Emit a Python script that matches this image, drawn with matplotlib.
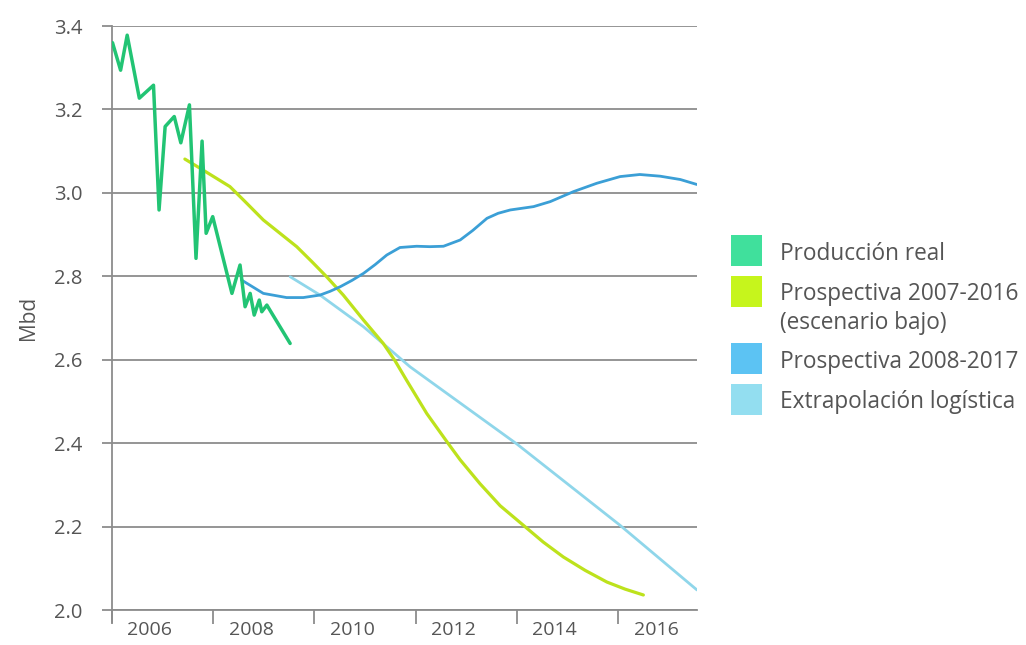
import matplotlib.pyplot as plt
from matplotlib.patches import Rectangle

plt.rcParams['font.family'] = ['Open Sans', 'DejaVu Sans']

# ----------------------------------------------------------------------
# data
# ----------------------------------------------------------------------
real_x = [2005.01, 2005.17, 2005.30, 2005.54, 2005.82, 2005.93, 2006.05, 2006.23,
          2006.36, 2006.53, 2006.66, 2006.78, 2006.86, 2006.99, 2007.37, 2007.53,
          2007.63, 2007.73, 2007.81, 2007.91, 2007.96, 2008.06, 2008.52]
real_y = [3.360, 3.294, 3.378, 3.227, 3.258, 2.959, 3.159, 3.183,
          3.120, 3.211, 2.843, 3.124, 2.903, 2.943, 2.759, 2.827,
          2.727, 2.759, 2.707, 2.743, 2.715, 2.731, 2.639]

p07_x = [2006.44, 2006.74, 2007.33, 2007.63, 2007.99, 2008.32, 2008.65, 2008.95,
         2009.24, 2009.57, 2009.97, 2010.36, 2010.59, 2010.82, 2011.22, 2011.65,
         2011.88, 2012.27, 2012.67, 2013.13, 2013.52, 2013.92, 2014.35, 2014.78,
         2015.14, 2015.50]
p07_y = [3.081, 3.059, 3.015, 2.979, 2.935, 2.903, 2.871, 2.835,
         2.799, 2.755, 2.695, 2.639, 2.598, 2.551, 2.471, 2.398,
         2.360, 2.303, 2.250, 2.203, 2.163, 2.127, 2.095, 2.067,
         2.050, 2.036]

p08_x = [2007.56, 2007.99, 2008.45, 2008.78, 2009.11, 2009.31, 2009.51, 2009.74,
         2009.97, 2010.20, 2010.43, 2010.69, 2011.02, 2011.28, 2011.55, 2011.88,
         2012.13, 2012.41, 2012.63, 2012.87, 2013.10, 2013.33, 2013.66, 2014.12,
         2014.58, 2015.04, 2015.43, 2015.83, 2016.23, 2016.56]
p08_y = [2.791, 2.759, 2.749, 2.749, 2.755, 2.764, 2.775, 2.790,
         2.807, 2.828, 2.851, 2.869, 2.872, 2.871, 2.872, 2.887,
         2.910, 2.939, 2.951, 2.959, 2.963, 2.967, 2.979, 3.003,
         3.023, 3.039, 3.044, 3.040, 3.032, 3.020]

logis_x = [2008.52, 2009.11, 2009.97, 2010.89, 2013.00, 2015.04, 2016.56]
logis_y = [2.799, 2.755, 2.679, 2.583, 2.398, 2.203, 2.048]

yticks = [2.0, 2.2, 2.4, 2.6, 2.8, 3.0, 3.2, 3.4]
year_ticks = [2005, 2007, 2009, 2011, 2013, 2015]
year_labels = ['2006', '2008', '2010', '2012', '2014', '2016']

legend_labels = ['Producción real', 'Prospectiva 2007-2016\n(escenario bajo)',
                 'Prospectiva 2008-2017', 'Extrapolación logística']

# ----------------------------------------------------------------------
# plot
# ----------------------------------------------------------------------
grey = '#8c8c8c'
txt = '#555555'
W, H = 1026, 645

fig = plt.figure(figsize=(W/100, H/100), dpi=100)
ax = fig.add_axes([112/W, 1 - 610/H, (697-112)/W, (610-26)/H])

line_kw = dict(solid_joinstyle='round', solid_capstyle='round')
ax.plot(logis_x, logis_y, color='#8fd6ea', lw=2.0, zorder=3, **line_kw)
ax.plot(p07_x, p07_y, color='#bde21c', lw=2.3, zorder=4, **line_kw)
ax.plot(p08_x, p08_y, color='#3b9fd6', lw=2.0, zorder=5, **line_kw)
ax.plot(real_x, real_y, color='#22c474', lw=2.5, zorder=6, **line_kw)

ax.set_xlim(2005, 2016.56)
ax.set_ylim(2.0, 3.4)

ax.set_yticks(yticks)
ax.set_yticklabels(['%.1f' % v for v in yticks])
ax.yaxis.grid(True, color=grey, lw=1.3)
ax.set_axisbelow(True)

ax.set_xticks(year_ticks)
ax.set_xticklabels([])
ax.set_xticks([y + 0.75 for y in year_ticks], minor=True)
ax.set_xticklabels(year_labels, minor=True)
ax.tick_params(axis='x', which='major', length=10, width=1.3, color=grey)
ax.tick_params(axis='x', which='minor', length=0, pad=8, labelsize=14, labelcolor=txt)
ax.tick_params(axis='y', length=7, width=1.3, color=grey, pad=14,
               labelsize=14.5, labelcolor=txt)

for s in ['top', 'right']:
    ax.spines[s].set_visible(False)
for s in ['left', 'bottom']:
    ax.spines[s].set_color(grey)
    ax.spines[s].set_linewidth(1.3)
ax.spines['left'].set_bounds(1.972, 3.4)

ax.set_ylabel('Mbd', fontsize=15, color=txt, labelpad=11)

# legend drawn by hand
sw_cols = ['#40e09c', '#c6f51c', '#5cc3f3', '#93def0']
sw_top = [235, 276, 343, 384]
for col, top, lab in zip(sw_cols, sw_top, legend_labels):
    fig.add_artist(Rectangle((731/W, 1 - (top + 31)/H), 31/W, 31/H,
                             transform=fig.transFigure, color=col, lw=0))
    for i, part in enumerate(lab.split('\n')):
        fig.text(780/W, 1 - (top + 24.5 + 28.5*i)/H, part, fontsize=16.3,
                 color=txt, va='baseline')

fig.savefig('out.png', dpi=100)
